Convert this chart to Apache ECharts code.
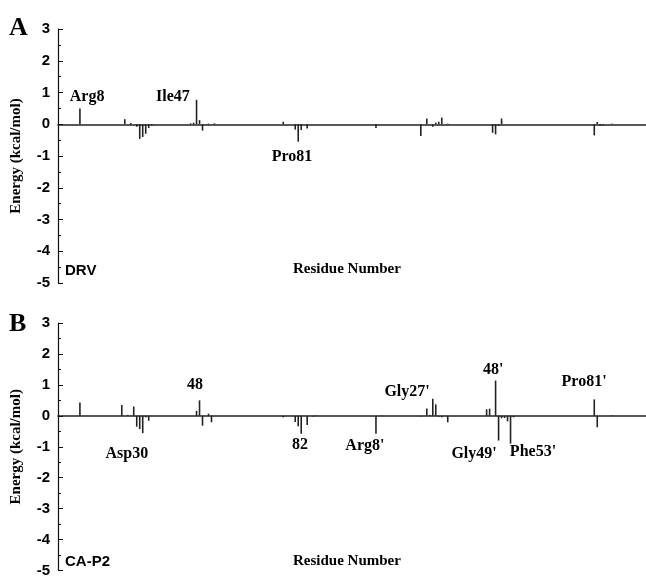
<!DOCTYPE html>
<html>
<head>
<meta charset="utf-8">
<script src="https://cdn.jsdelivr.net/npm/echarts@6/dist/echarts.min.js"></script>
<style>
html, body { margin: 0; background: #fff; }
#chart { width: 646px; height: 578px; }
</style>
</head>
<body>
<div id="chart"></div>
<script>
// panel A: DRV
const residuesA = [8, 23, 25, 27, 28, 29, 30, 31, 32, 45, 46, 47, 48, 49, 51, 53, 76, 80, 81, 82, 84,
  107, 122, 124, 126, 127, 128, 129, 131, 146, 147, 148, 149, 180, 181, 182, 183, 186];
const energyA = [0.5, 0.16, 0.04, -0.08, -0.46, -0.4, -0.3, -0.12, -0.04, 0.03, 0.05, 0.77, 0.13, -0.2, 0.02, 0.03, 0.08, -0.17, -0.55, -0.18, -0.13,
  -0.12, -0.37, 0.18, -0.08, 0.05, 0.08, 0.21, 0.02, -0.27, -0.32, -0.05, 0.18, -0.35, 0.07, -0.05, -0.04, 0.02];

// panel B: CA-P2
const residuesB = [8, 22, 24, 26, 27, 28, 29, 30, 31, 47, 48, 49, 51, 52, 76, 80, 81, 82, 84, 86, 87,
  107, 109, 122, 124, 125, 126, 127, 128, 129, 131, 144, 145, 147, 148, 149, 150, 151, 152, 153, 180, 181, 186];
const energyB = [0.43, 0.35, 0.03, 0.3, -0.35, -0.43, -0.56, -0.05, -0.16, 0.16, 0.5, -0.32, 0.07, -0.21, -0.05, -0.2, -0.34, -0.58, -0.3, -0.02, 0.02,
  -0.58, 0.02, -0.02, 0.24, 0.03, 0.55, 0.37, -0.03, -0.05, -0.21, 0.21, 0.23, 1.14, -0.8, -0.08, -0.07, -0.18, -0.9, -0.05, 0.53, -0.37, 0.02];

const yTicks = [3, 2, 1, 0, -1, -2, -3, -4, -5];

const labelsA = ['Arg8', 'Ile47', 'Pro81'];
const labelsB = ['48', 'Asp30', '82', "Arg8'", "Gly27'", "48'", "Gly49'", "Phe53'", "Pro81'"];

// where the residue names sit (data units)
const labelAtA = [[10.4, 0.85], [39.1, 0.85], [78.9, -1.04]];
const labelAtB = [[46.5, 1.01], [23.7, -1.22], [81.6, -0.94], [103.3, -0.97], [117.4, 0.79],
  [146.2, 1.49], [139.8, -1.22], [159.5, -1.16], [176.6, 1.11]];

const chart = echarts.init(document.getElementById('chart'));

const serifBold = { fontFamily: 'Liberation Serif', fontWeight: 'bold', color: '#000' };
const sansBold = { fontFamily: 'Liberation Sans', fontWeight: 'bold', color: '#000' };

function xAx(i) {
  return {
    gridIndex: i,
    type: 'value',
    min: 0.67,
    max: 197.3,
    axisLine: { onZero: true, lineStyle: { color: '#222', width: 1.6 } },
    axisTick: { show: false },
    axisLabel: { show: false },
    splitLine: { show: false }
  };
}

function yAx(i) {
  return {
    gridIndex: i,
    type: 'value',
    min: yTicks[yTicks.length - 1],
    max: yTicks[0],
    interval: 1,
    name: 'Energy (kcal/mol)',
    nameLocation: 'middle',
    nameGap: 34,
    nameTextStyle: Object.assign({ fontSize: 15 }, serifBold),
    axisLine: { show: true, lineStyle: { color: '#111', width: 1.2 } },
    axisTick: { show: true, inside: true, length: 5, lineStyle: { color: '#111' } },
    minorTick: { show: true, splitNumber: 2, length: 3, lineStyle: { color: '#111' } },
    axisLabel: Object.assign({ fontSize: 15, margin: 8 }, sansBold),
    splitLine: { show: false }
  };
}

function bars(i, res, en) {
  return {
    type: 'bar',
    xAxisIndex: i,
    yAxisIndex: i,
    barWidth: 1.6,
    itemStyle: { color: '#222' },
    silent: true,
    data: res.map((r, k) => [r, en[k]])
  };
}

function names(i, labels, at) {
  return {
    type: 'scatter',
    xAxisIndex: i,
    yAxisIndex: i,
    symbolSize: 0,
    silent: true,
    itemStyle: { opacity: 1, color: '#000' },
    label: Object.assign({ show: true, position: 'inside', formatter: '{b}', fontSize: 16, textBorderWidth: 0, opacity: 1 }, serifBold),
    data: labels.map((t, k) => ({ name: t, value: at[k] }))
  };
}

chart.setOption({
  animation: false,
  backgroundColor: '#fff',
  grid: [
    { left: 58, top: 29, width: 588, height: 254 },
    { left: 58, top: 323, width: 588, height: 250 }
  ],
  xAxis: [xAx(0), xAx(1)],
  yAxis: [yAx(0), yAx(1)],
  series: [
    bars(0, residuesA, energyA),
    bars(1, residuesB, energyB),
    names(0, labelsA, labelAtA),
    names(1, labelsB, labelAtB)
  ],
  graphic: [
    { type: 'text', left: 9, top: 15, style: Object.assign({ text: 'A', fontSize: 26 }, serifBold, { fill: '#000' }) },
    { type: 'text', left: 9, top: 311, style: Object.assign({ text: 'B', fontSize: 26 }, serifBold, { fill: '#000' }) },
    { type: 'text', left: 65, top: 263, style: Object.assign({ text: 'DRV', fontSize: 15 }, sansBold, { fill: '#000' }) },
    { type: 'text', left: 65, top: 554, style: Object.assign({ text: 'CA-P2', fontSize: 15 }, sansBold, { fill: '#000' }) },
    { type: 'text', left: 293, top: 262, style: Object.assign({ text: 'Residue Number', fontSize: 15 }, serifBold, { fill: '#000' }) },
    { type: 'text', left: 293, top: 554, style: Object.assign({ text: 'Residue Number', fontSize: 15 }, serifBold, { fill: '#000' }) }
  ]
});
</script>
</body>
</html>
